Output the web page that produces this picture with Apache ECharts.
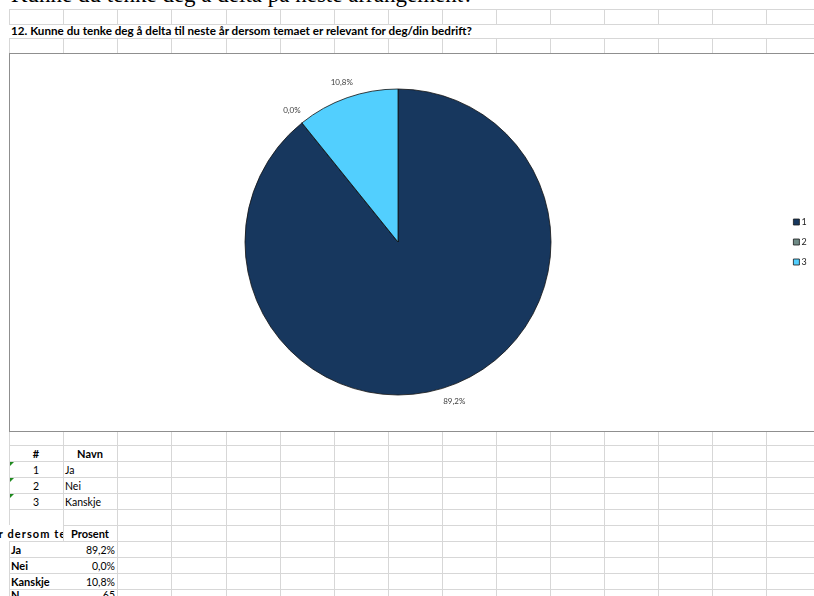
<!DOCTYPE html>
<html><head><meta charset="utf-8">
<script src="https://cdn.jsdelivr.net/npm/echarts/dist/echarts.min.js"></script>
<style>
html,body{margin:0;padding:0;width:814px;height:596px;overflow:hidden;background:#fff;}
body{position:relative;font-family:Lato,'Open Sans',sans-serif;}
.l{position:absolute;background:#d7d7d7;}
.c{position:absolute;display:flex;align-items:flex-end;box-sizing:border-box;padding:0 2px 1px 2px;font-size:10.5px;color:#000;white-space:nowrap;overflow:hidden;line-height:12px;}
#box{position:absolute;left:9px;top:53px;width:820px;height:379px;border:1px solid #8f8f8f;box-sizing:border-box;background:#fff;}
#chart{position:absolute;left:0;top:0;width:818px;height:377px;}
</style></head><body>
<div id="box"><div id="chart"></div></div>
<script>
// ---- data ----
const categories = ['1', '2', '3'];
const answerNames = ['Ja', 'Nei', 'Kanskje'];
const percentValues = [89.2, 0.0, 10.8];
const respondentCount = 65;
const chartTitle = '12. Kunne du tenke deg å delta til neste år dersom temaet er relevant for deg/din bedrift?';
const tableHeaders = ['#', 'Navn'];
const percentHeader = 'Prosent';
const clippedHeader = 'år dersom temaet er relevant';
const pageHeading = 'Kunne du tenke deg å delta på neste arrangement?';

const fmt = v => v.toFixed(1).replace('.', ',') + '%';

// ---- spreadsheet background ----
const body = document.body;
function line(x, y, w, h) {
  const d = document.createElement('div'); d.className = 'l';
  d.style.left = x + 'px'; d.style.top = y + 'px'; d.style.width = w + 'px'; d.style.height = h + 'px';
  body.appendChild(d); return d;
}
function cell(x1, x2, y1, y2, text, opt) {
  opt = opt || {};
  const d = document.createElement('div'); d.className = 'c';
  d.style.left = x1 + 'px'; d.style.top = y1 + 'px'; d.style.width = (x2 - x1) + 'px'; d.style.height = (y2 - y1) + 'px';
  d.style.justifyContent = opt.align === 'center' ? 'center' : opt.align === 'right' ? 'flex-end' : 'flex-start';
  if (opt.bold) { d.style.fontWeight = 'bold'; d.style.fontSize = '11px'; }
  d.textContent = text; body.appendChild(d); return d;
}
const xs = []; for (let k = 0; k <= 15; k++) xs.push(Math.round(9.3 + 54.05 * k));
// top rows
[9, 24, 38].forEach(y => line(9, y, 820, 1));
xs.forEach(x => { line(x, 9, 1, 15); line(x, 38, 1, 15); });
// big heading (clipped at top)
const hd = document.createElement('div');
hd.style.cssText = 'position:absolute;left:11px;top:-19px;font-family:"Liberation Serif",serif;font-size:23px;line-height:27px;white-space:nowrap;color:#000;';
hd.textContent = pageHeading; body.appendChild(hd);
// title, fitted to the width it takes in the sheet
const tt = document.createElement('div');
tt.style.cssText = 'position:absolute;left:11px;top:25px;font-size:10.5px;line-height:13px;font-weight:bold;white-space:nowrap;transform-origin:0 0;color:#000;';
tt.textContent = chartTitle; body.appendChild(tt);
tt.style.transform = 'scaleX(' + (461 / tt.scrollWidth).toFixed(4) + ')';
// lower rows
const rowsY = [445, 461, 477, 493, 509, 525, 541, 557, 573, 589, 605];
rowsY.forEach(y => line(9, y, 820, 1));
xs.forEach(x => {
  if (x === xs[1]) { line(x, 432, 1, 541 - 432); }
  else line(x, 432, 1, 596 - 432);
});
// # table
cell(xs[0], xs[1], rowsY[0], rowsY[1], tableHeaders[0], {align: 'center', bold: true});
cell(xs[1], xs[2], rowsY[0], rowsY[1], tableHeaders[1], {align: 'center', bold: true});
categories.forEach((c, i) => {
  cell(xs[0], xs[1], rowsY[i + 1], rowsY[i + 2], c, {align: 'center'});
  cell(xs[1], xs[2], rowsY[i + 1], rowsY[i + 2], answerNames[i]);
  const g = document.createElement('div');
  g.style.cssText = 'position:absolute;width:0;height:0;border-top:4px solid #1f8a1f;border-right:4px solid transparent;';
  g.style.left = (xs[0] + 1) + 'px'; g.style.top = (rowsY[i + 1] + 1) + 'px';
  body.appendChild(g);
});
// percent table
const ch = cell(0, xs[1], rowsY[5], rowsY[6], '', {bold: true});
ch.style.background = '#fff'; ch.style.padding = '0 0 1px 0'; ch.style.letterSpacing = '1.1px';
const chs = document.createElement('span'); chs.textContent = clippedHeader; chs.style.marginLeft = '-8px';
ch.appendChild(chs);
cell(xs[1], xs[2], rowsY[5], rowsY[6], percentHeader, {align: 'center', bold: true});
answerNames.forEach((n, i) => {
  cell(xs[0], xs[1], rowsY[6 + i], rowsY[7 + i], n, {bold: true});
  cell(xs[1], xs[2], rowsY[6 + i], rowsY[7 + i], fmt(percentValues[i]), {align: 'right'});
});
const nl = cell(xs[0], xs[1], rowsY[9], rowsY[10], 'N', {bold: true});
const nv = cell(xs[1], xs[2], rowsY[9], rowsY[10], String(respondentCount), {align: 'right'});
nl.style.alignItems = nv.style.alignItems = 'flex-start';

// ---- chart ----
const chart = echarts.init(document.getElementById('chart'), null, {renderer: 'canvas'});
chart.setOption({
  animation: false,
  color: ['#17375e', '#6f8b86', '#52cffe'],
  legend: {
    orient: 'vertical', left: 778, top: 158, icon: 'rect',
    itemWidth: 6, itemHeight: 6, itemGap: 10,
    data: categories,
    itemStyle: {borderColor: '#1a1a1a', borderWidth: 0.8},
    textStyle: {fontSize: 9, color: '#222', fontFamily: 'Lato', lineHeight: 10, padding: [0, 0, 0, -3]}
  },
  series: [{
    type: 'pie', center: [388, 188], radius: 153, startAngle: 90, clockwise: true,
    avoidLabelOverlap: false,
    itemStyle: {borderColor: '#111', borderWidth: 0.8},
    emphasis: {disabled: true},
    label: {show: true, position: 'outside', fontSize: 8, color: '#404040', fontFamily: 'Lato',
      distanceToLabelLine: 0, formatter: p => fmt(p.value)},
    labelLine: {show: false, length: 16, length2: 0},
    labelLayout: function (params) {
      const r = params.labelRect;
      let ex, ey = r.y + r.height / 2;
      const pts = params.labelLinePoints;
      if (pts && pts.length) { ex = pts[pts.length - 1][0]; ey = pts[pts.length - 1][1]; }
      else ex = params.align === 'left' ? r.x : params.align === 'right' ? r.x + r.width : r.x + r.width / 2;
      return {x: ex, y: ey, align: 'center', verticalAlign: 'middle'};
    },
    data: categories.map((c, i) => ({name: c, value: percentValues[i]}))
  }]
});
</script>
</body></html>
